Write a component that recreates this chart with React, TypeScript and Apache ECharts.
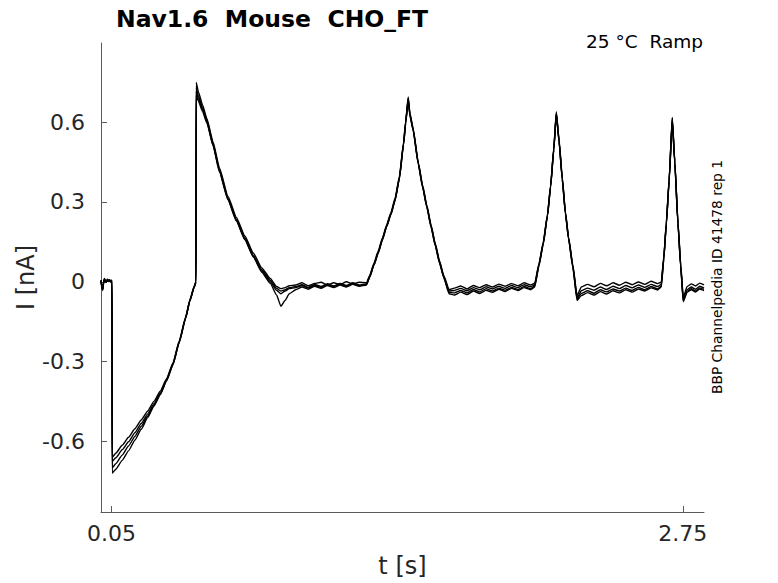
import React, { useEffect, useRef } from "react";
import * as echarts from "echarts";

// Time samples (s) shared by all sweeps
const T: number[] = [
  0.000, 0.004, 0.008, 0.012, 0.016, 0.020, 0.025, 0.030, 0.035, 0.040, 0.045, 0.052, 0.053,
  0.07, 0.10, 0.13, 0.16, 0.19, 0.22, 0.25, 0.28, 0.31, 0.34, 0.37, 0.40, 0.42, 0.44, 0.449,
  0.450,
  0.46, 0.48, 0.50, 0.53, 0.56, 0.60, 0.64, 0.68, 0.72, 0.76, 0.80, 0.83, 0.85, 0.87, 0.89,
  0.92, 0.95, 0.98, 1.01, 1.04, 1.07, 1.10, 1.13, 1.16, 1.19, 1.22, 1.255,
  1.27, 1.29, 1.31, 1.33, 1.35, 1.37, 1.39, 1.41, 1.43, 1.44, 1.452,
  1.46, 1.475, 1.50, 1.52, 1.54, 1.56, 1.58, 1.60, 1.62, 1.645,
  1.67, 1.70, 1.73, 1.76, 1.79, 1.82, 1.85, 1.88, 1.91, 1.94, 1.97, 2.00, 2.03, 2.05,
  2.07, 2.09, 2.11, 2.125, 2.14, 2.152,
  2.165, 2.18, 2.195, 2.21, 2.23, 2.25,
  2.27, 2.30, 2.33, 2.36, 2.39, 2.42, 2.45, 2.48, 2.51, 2.54, 2.57, 2.60, 2.63, 2.648,
  2.66, 2.672, 2.685, 2.70,
  2.712, 2.727, 2.74, 2.752,
  2.77, 2.79, 2.81, 2.83, 2.85,
];

// Current sweeps (nA)
const sweep1: number[] = [
  0.004, -0.015, -0.028, 0.0, 0.012, 0.006, 0.002, 0.01, 0.006, 0.008, 0.004, 0.006, -0.66,
  -0.645, -0.615, -0.585, -0.553, -0.52, -0.487, -0.45, -0.412, -0.365, -0.305, -0.222, -0.132, -0.068, -0.018, 0.002,
  0.75,
  0.715, 0.665, 0.615, 0.525, 0.428, 0.322, 0.242, 0.172, 0.108, 0.052, 0.012, -0.018, -0.026, -0.022, -0.015,
  -0.012, -0.004, -0.015, -0.006, -0.002, -0.012, -0.004, -0.01, 0.0, -0.008, -0.002, -0.004,
  0.024, 0.07, 0.115, 0.165, 0.214, 0.26, 0.315, 0.395, 0.525, 0.605, 0.695,
  0.635, 0.578, 0.448, 0.364, 0.288, 0.214, 0.144, 0.079, 0.024, -0.03,
  -0.024, -0.016, -0.027, -0.014, -0.022, -0.011, -0.02, -0.009, -0.017, -0.007, -0.015, -0.004, -0.012, -0.005,
  0.068, 0.148, 0.253, 0.363, 0.503, 0.64,
  0.535, 0.395, 0.264, 0.168, 0.064, -0.052,
  -0.02, -0.01, -0.019, -0.006, -0.015, -0.004, -0.013, -0.002, -0.011, -0.001, -0.01, 0.002, -0.007, -0.002,
  0.095, 0.225, 0.385, 0.618,
  0.455, 0.225, 0.065, -0.06,
  -0.018, -0.008, -0.016, -0.005, -0.012,
];

const sweep2: number[] = [
  0.006, -0.022, -0.032, -0.006, 0.009, 0.003, -0.002, 0.006, 0.002, 0.005, 0.0, 0.003, -0.675,
  -0.662, -0.632, -0.602, -0.568, -0.533, -0.498, -0.459, -0.419, -0.369, -0.309, -0.225, -0.135, -0.07, -0.02, 0.0,
  0.73,
  0.70, 0.655, 0.608, 0.518, 0.42, 0.315, 0.235, 0.165, 0.10, 0.045, 0.005, -0.025, -0.035, -0.03, -0.022,
  -0.018, -0.011, -0.021, -0.01, -0.018, -0.007, -0.016, -0.006, -0.014, -0.004, -0.012, -0.008,
  0.02, 0.065, 0.11, 0.16, 0.21, 0.255, 0.31, 0.39, 0.52, 0.60, 0.69,
  0.63, 0.575, 0.445, 0.36, 0.285, 0.21, 0.14, 0.075, 0.02, -0.035,
  -0.033, -0.025, -0.034, -0.022, -0.03, -0.019, -0.027, -0.017, -0.025, -0.014, -0.022, -0.011, -0.019, -0.011,
  0.065, 0.145, 0.25, 0.36, 0.50, 0.635,
  0.53, 0.39, 0.26, 0.165, 0.06, -0.06,
  -0.034, -0.024, -0.032, -0.02, -0.029, -0.017, -0.026, -0.014, -0.023, -0.012, -0.021, -0.01, -0.018, -0.01,
  0.09, 0.22, 0.38, 0.615,
  0.45, 0.22, 0.06, -0.068,
  -0.03, -0.02, -0.028, -0.017, -0.024,
];

const sweep3: number[] = [
  0.003, -0.018, -0.03, -0.004, 0.011, 0.004, 0.001, 0.007, 0.003, 0.007, 0.001, 0.005, -0.70,
  -0.684, -0.652, -0.618, -0.582, -0.544, -0.506, -0.465, -0.423, -0.372, -0.311, -0.227, -0.137, -0.072, -0.021, -0.001,
  0.715,
  0.69, 0.648, 0.602, 0.513, 0.415, 0.31, 0.23, 0.16, 0.095, 0.04, 0.0, -0.032, -0.045, -0.035, -0.026,
  -0.022, -0.014, -0.024, -0.013, -0.021, -0.011, -0.019, -0.009, -0.017, -0.007, -0.015, -0.01,
  0.018, 0.063, 0.108, 0.158, 0.208, 0.253, 0.307, 0.387, 0.517, 0.597, 0.686,
  0.627, 0.572, 0.442, 0.357, 0.282, 0.207, 0.137, 0.072, 0.017, -0.04,
  -0.042, -0.033, -0.042, -0.029, -0.038, -0.026, -0.035, -0.024, -0.032, -0.021, -0.029, -0.018, -0.026, -0.016,
  0.062, 0.142, 0.247, 0.357, 0.497, 0.632,
  0.527, 0.387, 0.257, 0.162, 0.056, -0.065,
  -0.044, -0.034, -0.043, -0.03, -0.038, -0.027, -0.035, -0.024, -0.033, -0.021, -0.03, -0.018, -0.027, -0.017,
  0.087, 0.217, 0.377, 0.61,
  0.447, 0.217, 0.056, -0.072,
  -0.036, -0.026, -0.035, -0.023, -0.029,
];

const sweep4: number[] = [
  0.005, -0.025, -0.029, -0.007, 0.008, 0.002, -0.001, 0.005, 0.001, 0.004, -0.001, 0.002, -0.72,
  -0.705, -0.672, -0.636, -0.596, -0.555, -0.512, -0.468, -0.425, -0.373, -0.312, -0.228, -0.138, -0.073, -0.022, -0.002,
  0.70,
  0.68, 0.64, 0.598, 0.51, 0.412, 0.308, 0.228, 0.158, 0.093, 0.036, -0.006, -0.05, -0.092, -0.07, -0.045,
  -0.03, -0.02, -0.028, -0.017, -0.025, -0.014, -0.022, -0.012, -0.02, -0.01, -0.017, -0.012,
  0.017, 0.062, 0.107, 0.157, 0.207, 0.252, 0.306, 0.386, 0.515, 0.595, 0.684,
  0.625, 0.57, 0.44, 0.355, 0.28, 0.205, 0.135, 0.07, 0.015, -0.045,
  -0.05, -0.039, -0.048, -0.035, -0.044, -0.032, -0.04, -0.028, -0.037, -0.025, -0.033, -0.022, -0.03, -0.02,
  0.06, 0.14, 0.245, 0.355, 0.495, 0.63,
  0.525, 0.385, 0.255, 0.16, 0.053, -0.07,
  -0.052, -0.041, -0.05, -0.037, -0.046, -0.034, -0.042, -0.03, -0.039, -0.027, -0.035, -0.023, -0.031, -0.02,
  0.085, 0.215, 0.375, 0.605,
  0.445, 0.215, 0.053, -0.075,
  -0.04, -0.03, -0.039, -0.027, -0.033,
];

const SWEEPS: number[][] = [sweep1, sweep2, sweep3, sweep4];

const X_TICKS: number[] = [0.05, 2.75];
const Y_TICKS: number[] = [-0.6, -0.3, 0, 0.3, 0.6];

const TITLE = "Nav1.6  Mouse  CHO_FT";
const SUBTITLE = "25 °C  Ramp";
const SIDE_NOTE = "BBP Channelpedia ID 41478 rep 1";

const FONT = "DejaVu Sans";

export default function App() {
  const ref = useRef<HTMLDivElement>(null);

  useEffect(() => {
    if (!ref.current) return;
    const chart = echarts.init(ref.current, null, { renderer: "svg" });

    const series = SWEEPS.map((sw, k) => ({
      name: "sweep " + (k + 1),
      type: "line",
      data: T.map((t, i) => [t, sw[i]]),
      showSymbol: false,
      symbol: "none",
      smooth: 0.15,
      smoothMonotone: "x",
      lineStyle: { color: "#000", width: 1.4 },
      itemStyle: { color: "#000" },
      emphasis: { disabled: true },
      silent: true,
      z: 2,
    }));

    const option: any = {
      animation: false,
      backgroundColor: "#fff",
      title: {
        text: TITLE,
        left: 111,
        top: 2,
        textStyle: { fontFamily: FONT, fontWeight: "bold", fontSize: 23.5, color: "#000" },
      },
      grid: { left: 101, top: 43, width: 603, height: 469, containLabel: false },
      xAxis: {
        type: "value",
        min: 0,
        max: 2.85,
        name: "t [s]",
        nameLocation: "middle",
        nameGap: 42,
        nameMoveOverlap: false,
        nameTextStyle: { fontFamily: FONT, fontSize: 24, color: "#262626" },
        axisLine: { show: true, onZero: false, lineStyle: { color: "#5a5a5a", width: 1 } },
        axisTick: { show: true, inside: true, length: 6, customValues: X_TICKS, lineStyle: { color: "#5a5a5a" } },
        axisLabel: {
          customValues: X_TICKS,
          fontFamily: FONT,
          fontSize: 22,
          color: "#262626",
          margin: 10,
          formatter: (v: number) => String(v),
        },
        splitLine: { show: false },
      },
      yAxis: {
        type: "value",
        min: -0.866,
        max: 0.898,
        name: "I [nA]",
        nameLocation: "middle",
        nameGap: 63,
        nameMoveOverlap: false,
        nameRotate: 90,
        nameTextStyle: { fontFamily: FONT, fontSize: 24, color: "#262626" },
        axisLine: { show: true, onZero: false, lineStyle: { color: "#5a5a5a", width: 1 } },
        axisTick: { show: true, inside: true, length: 6, customValues: Y_TICKS, lineStyle: { color: "#5a5a5a" } },
        axisLabel: {
          customValues: Y_TICKS,
          fontFamily: FONT,
          fontSize: 22,
          color: "#262626",
          margin: 16,
          formatter: (v: number) => (Math.abs(v) < 1e-9 ? "0" : String(v)),
        },
        splitLine: { show: false },
      },
      graphic: [
        {
          type: "text",
          x: 703,
          y: 41,
          style: {
            text: SUBTITLE,
            fontFamily: FONT,
            fontSize: 18.5,
            fill: "#000",
            align: "right",
            verticalAlign: "middle",
          },
        },
        {
          type: "text",
          x: 717,
          y: 277,
          rotation: Math.PI / 2,
          style: {
            text: SIDE_NOTE,
            fontFamily: FONT,
            fontSize: 13.8,
            fill: "#000",
            align: "center",
            verticalAlign: "middle",
          },
        },
      ],
      series,
    };

    chart.setOption(option);
    return () => chart.dispose();
  }, []);

  return (
    <div
      ref={ref}
      style={{ position: "fixed", left: 0, top: 0, width: 778, height: 583, background: "#fff" }}
    />
  );
}
